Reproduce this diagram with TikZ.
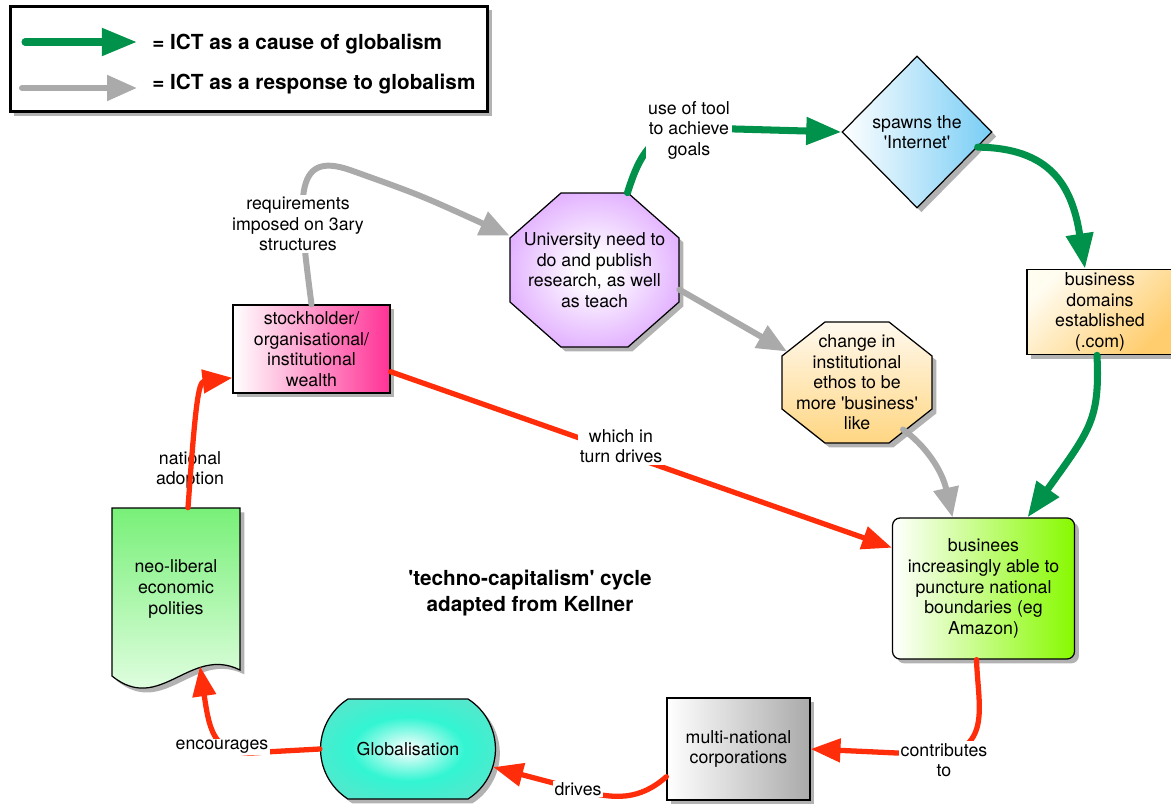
\documentclass[tikz,border=0pt]{standalone}
\usepackage{fontspec}
\setmainfont{TeX Gyre Heros}
\usetikzlibrary{positioning,calc,arrows.meta,shapes.geometric,shapes.misc,shadows}

\definecolor{ictgreen}{RGB}{0,145,75}
\definecolor{ictgray}{RGB}{170,170,170}
\definecolor{ictred}{RGB}{255,45,10}
\definecolor{wealthpink}{RGB}{255,50,150}
\definecolor{netblue}{RGB}{120,205,245}
\definecolor{domtop}{RGB}{255,252,240}
\definecolor{domorange}{RGB}{255,205,110}
\definecolor{amazonlime}{RGB}{135,250,0}
\definecolor{mncgray}{RGB}{170,170,170}
\definecolor{neotop}{RGB}{120,240,120}
\definecolor{neobottom}{RGB}{238,255,238}
\definecolor{ethostop}{RGB}{255,249,238}
\definecolor{ethosbottom}{RGB}{255,214,130}
\definecolor{univlilac}{RGB}{222,165,255}
\definecolor{globaqua}{RGB}{50,245,210}
\definecolor{globteal}{RGB}{128,214,198}

\pgfdeclareradialshading{univshade}{\pgfpointorigin}{color(0bp)=(white); color(4bp)=(white); color(30bp)=(univlilac); color(50bp)=(univlilac)}
\pgfdeclareradialshading{globshade}{\pgfpointorigin}{color(0bp)=(white); color(16bp)=(globaqua); color(46bp)=(globteal); color(50bp)=(globteal)}

\newcommand{\sq}{\textquotesingle}

\tikzset{
    cause/.style = {
        draw = ictgreen,
        line width = 4pt,
        line cap = round,
        -{Triangle[length=20pt,width=15pt]},
    },
    response/.style = {
        draw = ictgray,
        line width = 3.4pt,
        line cap = round,
        -{Triangle[length=17pt,width=14pt]},
    },
    redflow/.style = {
        draw = ictred,
        line width = 3pt,
        line cap = round,
        -{Triangle[length=17pt,width=13pt]},
    },
    shadowed/.style = {
        drop shadow = {shadow xshift=2.5pt, shadow yshift=-2.5pt, opacity=0.3, fill=black},
    },
    box/.style = {
        draw = black,
        line width = 0.7pt,
        align = center,
        inner sep = 2pt,
        shadowed,
    },
    plaintext/.style = {
        align = center,
        inner sep = 2pt,
    },
    lbl/.style = {
        fill = white,
        inner sep = 1pt,
        align = center,
    },
    keytext/.style = {
        font = \fontsize{11.8}{14.7}\selectfont\bfseries,
        inner sep = 0pt,
        anchor = west,
    },
}

\begin{document}
\begin{tikzpicture}[x=0.02cm, y=-0.02cm, font=\fontsize{10.1}{11.7}\selectfont]
    \path[use as bounding box, fill=white] (0,0) rectangle (1171,805);

    % key
    \node[box, fill=white, line width=1.7pt, minimum width=9.56cm, minimum height=2.12cm] (legend) at (249,59) {};
    \coordinate (causeA) at (25,42);
    \coordinate (causeB) at (137,42);
    \coordinate (respA) at (22,88);
    \coordinate (respB) at (137,88);
    \draw[cause] (causeA) -- (causeB);
    \draw[response] (respA) -- (respB);
    \node[keytext] (causekey) at (152,44) {= ICT as a cause of globalism};
    \node[keytext] (respkey) at (152,84) {= ICT as a response to globalism};

    % shapes drawn by hand
    \path[draw=black, line width=0.7pt, shade, shading=univshade, shadowed]
        (561,193) -- (628,193) -- (679,238) -- (679,302) -- (628,347) -- (561,347) -- (510,302) -- (510,238) -- cycle;
    \path[draw=black, line width=0.7pt, top color=ethostop, bottom color=ethosbottom, shadowed]
        (825,322) -- (889,322) -- (932,356) -- (932,409) -- (889,443) -- (825,443) -- (782,409) -- (782,356) -- cycle;
    \path[draw=black, line width=0.7pt, top color=neotop, bottom color=neobottom, shadowed]
        (112,508) -- (240,508) -- (240,670) .. controls (190,645) and (160,715) .. (112,676) -- cycle;

    % nodes
    \node[box, diamond, aspect=1, inner sep=0pt, minimum width=3cm, minimum height=3.04cm,
          left color=white, right color=netblue] (internet) at (917,132) {spawns the\\\sq Internet\sq};
    \node[box, minimum width=2.92cm, minimum height=1.6cm,
          top color=domtop, bottom color=domorange, shading angle=45] (domains) at (1100,312) {business\\domains\\established\\(.com)};
    \node[plaintext, minimum width=3.38cm, minimum height=3.08cm] (univ) at (594.5,270) {University need to\\do and publish\\research, as well\\as teach};
    \node[plaintext, minimum width=3cm, minimum height=2.42cm] (change) at (857,382.5) {change in\\institutional\\ethos to be\\more \sq business\sq\\like};
    \node[box, minimum width=3.14cm, minimum height=1.76cm,
          left color=white, right color=wealthpink] (wealth) at (311.5,349) {stockholder/\\organisational/\\institutional\\wealth};
    \node[box, rounded corners=0.15cm, minimum width=3.64cm, minimum height=2.82cm,
          left color=white, right color=amazonlime] (amazon) at (983.5,588.5) {businees\\increasingly able to\\puncture national\\boundaries (eg\\Amazon)};
    \node[box, minimum width=2.86cm, minimum height=2.04cm,
          left color=white, right color=mncgray] (mnc) at (738.5,749) {multi-national\\corporations};
    \node[box, rounded rectangle, rounded rectangle arc length=115, minimum width=3.64cm, minimum height=2cm,
          shade, shading=globshade] (glob) at (408,749) {Globalisation};
    \node[plaintext, minimum width=2.56cm, minimum height=3.24cm] (neo) at (176,589) {neo-liberal\\economic\\polities};

    \node[plaintext, font=\fontsize{11.8}{14.7}\selectfont\bfseries] (title) at (530,593) {\sq techno-capitalism\sq{} cycle\\adapted from Kellner};

    % connectors
    \draw[response] (wealth.north) .. controls (298,200) and (292,150) .. (350,170) .. controls (420,195) .. (univ.158);
    \draw[response] (univ.-13) -- ($(change.center)+(-70,-31)$);
    \draw[response] ($(change.center)+(46,47)$) .. controls (925,445) and (942,470) .. ($(amazon.north)+(-31,0)$);

    \draw[cause] ($(univ.north)+(33,0)$) .. controls (638,160) and (650,128) .. (700,128) -- (internet.west);
    \draw[cause] (internet.-14) .. controls (1050,148) and (1072,185) .. ($(domains.north)+(-15,0)$);
    \draw[cause] ($(domains.south)+(-3,0)$) .. controls (1100,420) and (1090,430) .. ($(amazon.north)+(44,0)$);

    \node[plaintext, inner sep=1pt] (adoptnote) at (190,470) {national\\adoption};

    \draw[redflow] (wealth.-16) -- (amazon.156);
    \draw[redflow] ($(amazon.south)+(-7,0)$) .. controls (978,705) and (992,748) .. (940,755) -- (mnc.east);
    \draw[redflow] (mnc.201) .. controls (640,800) and (615,800) .. (580,790) -- (glob.-12);
    \draw[redflow] (glob.west) -- (265,752) .. controls (215,758) and (210,735) .. ($(neo.south)+(24,-4)$);
    \draw[redflow] ($(neo.north)+(12,0)$) .. controls (195,410) and (198,382) .. (wealth.200);

    % connector labels
    \node[lbl] (toolnote) at (689,130) {use of tool\\to achieve\\goals};
    \node[lbl] (reqnote) at (298,224) {requirements\\imposed on 3ary\\structures};
    \node[lbl] (turnnote) at (621,446) {which in\\turn drives};
    \node[lbl] (encnote) at (222,747) {encourages};
    \node[lbl] (drivenote) at (578,789) {drives};
    \node[lbl] (contribnote) at (944,760) {contributes\\to};
\end{tikzpicture}
\end{document}
